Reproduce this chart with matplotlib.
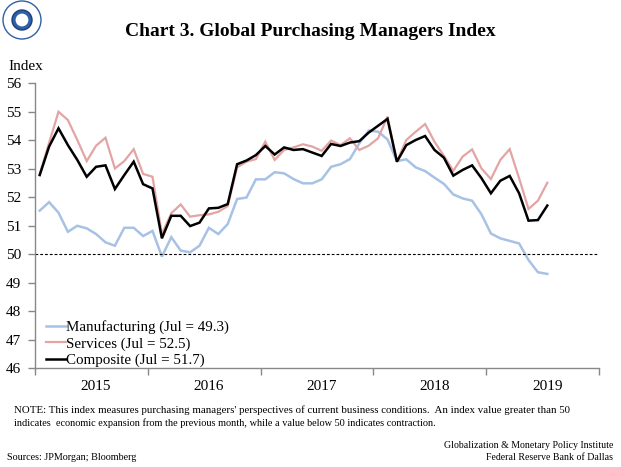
import matplotlib
matplotlib.use("Agg")
import matplotlib.pyplot as plt
from matplotlib.patches import Circle
import numpy as np

plt.rcParams['font.family'] = ['Liberation Serif', 'DejaVu Serif']

# Monthly data, Jan 2015 - Jul 2019
manufacturing = [51.52, 51.82, 51.45, 50.78, 50.99, 50.90, 50.70, 50.41, 50.29, 50.92, 50.92, 50.63,
                 50.81, 49.91, 50.59, 50.12, 50.06, 50.29, 50.92, 50.70, 51.05, 51.93, 51.98, 52.62,
                 52.62, 52.87, 52.83, 52.63, 52.48, 52.48, 52.62, 53.06, 53.15, 53.33, 53.88, 54.33,
                 54.29, 54.02, 53.26, 53.32, 53.04, 52.91, 52.68, 52.46, 52.09, 51.95, 51.87, 51.39,
                 50.72, 50.55, 50.46, 50.37, 49.79, 49.36, 49.30]
services = [52.80, 53.90, 54.99, 54.70, 54.00, 53.26, 53.80, 54.08, 53.00, 53.26, 53.68, 52.81,
            52.71, 50.70, 51.43, 51.74, 51.31, 51.36, 51.39, 51.48, 51.68, 53.04, 53.24, 53.33,
            53.94, 53.30, 53.65, 53.74, 53.85, 53.77, 53.62, 53.98, 53.82, 54.06, 53.65, 53.80,
            54.06, 54.82, 53.24, 54.00, 54.29, 54.56, 53.94, 53.44, 52.92, 53.42, 53.67, 53.00,
            52.63, 53.30, 53.68, 52.66, 51.58, 51.87, 52.50]
composite = [52.77, 53.77, 54.41, 53.82, 53.30, 52.71, 53.06, 53.11, 52.28, 52.77, 53.24, 52.45,
             52.30, 50.55, 51.34, 51.34, 50.98, 51.10, 51.60, 51.62, 51.75, 53.15, 53.28, 53.47,
             53.79, 53.49, 53.74, 53.65, 53.68, 53.56, 53.44, 53.86, 53.79, 53.91, 53.96, 54.26,
             54.50, 54.74, 53.24, 53.82, 54.00, 54.14, 53.65, 53.38, 52.75, 52.95, 53.11, 52.66,
             52.13, 52.57, 52.74, 52.13, 51.17, 51.19, 51.70]
years = ['2015', '2016', '2017', '2018', '2019']
labels = ['Manufacturing (Jul = 49.3)', 'Services (Jul = 52.5)', 'Composite (Jul = 51.7)']
colors = ['#A7C2E5', '#E3A4A4', '#000000']

fig = plt.figure(figsize=(6.21, 4.67), dpi=100)
ax = fig.add_axes([35/621, 1-368/467, (599-35)/621, (368-83)/467])

x = np.arange(len(composite))
for series, lab, col, lw in zip([manufacturing, services, composite], labels, colors, [1.8, 1.6, 1.8]):
    ax.plot(x, series, color=col, lw=lw, label=lab, solid_joinstyle='miter')

ax.axhline(50, color='black', lw=0.8, ls=(0, (2.5, 1.8)))

ax.set_xlim(-0.5, 59.5)
ax.set_ylim(46, 56)
ax.set_yticks(np.arange(46, 57, 1))
ax.set_xticks(np.arange(-0.5, 60, 12))
ax.set_xticklabels([])
ax.set_xticks(np.arange(6, 60, 12), minor=True)
ax.set_xticklabels(years, minor=True)
ax.tick_params(axis='x', which='minor', length=0, pad=9, labelsize=11)
ax.tick_params(axis='x', which='major', length=5, color='#888888', width=1)
ax.tick_params(axis='y', length=5, color='#888888', width=1, pad=5, labelsize=11)

for s in ['top', 'right']:
    ax.spines[s].set_visible(False)
for s in ['left', 'bottom']:
    ax.spines[s].set_color('#888888')
    ax.spines[s].set_linewidth(1)

leg = ax.legend(loc='upper left', bbox_to_anchor=(46/621, 1-320/467), bbox_transform=fig.transFigure,
                frameon=False, handlelength=1.3, handletextpad=0.05, labelspacing=0.2,
                borderpad=0, borderaxespad=0, fontsize=10.8)

fig.text(8/621, 1-67/467, 'Index', fontsize=11, ha='left', va='center')
fig.text(310/621, 1-32/467, 'Chart 3. Global Purchasing Managers Index', fontsize=14,
         fontweight='bold', ha='center', va='center')

# logo approximation
lax = fig.add_axes([2/621, 1-40/467, 40/621, 40/467])
lax.set_xlim(-1, 1); lax.set_ylim(-1, 1); lax.set_aspect('equal'); lax.axis('off')
lax.add_patch(Circle((0, 0), 0.95, fc='white', ec='#2E5FA8', lw=1.0))
lax.add_patch(Circle((0, 0), 0.5, fc='#2E5FA8', ec='#1E3F7A', lw=1.0))
lax.add_patch(Circle((0, 0), 0.32, fc='white', ec='none'))

fig.text(14/621, 1-410/467,
         "NOTE: This index measures purchasing managers' perspectives of current business conditions.  An index value greater than 50",
         fontsize=7.8, ha='left', va='center')
fig.text(14/621, 1-423/467,
         "indicates  economic expansion from the previous month, while a value below 50 indicates contraction.",
         fontsize=7.4, ha='left', va='center')
fig.text(7/621, 1-458/467, 'Sources: JPMorgan; Bloomberg', fontsize=7.3, ha='left', va='center')
fig.text(613/621, 1-446/467, 'Globalization & Monetary Policy Institute', fontsize=7.1, ha='right', va='center')
fig.text(613/621, 1-458/467, 'Federal Reserve Bank of Dallas', fontsize=7.1, ha='right', va='center')

fig.savefig('out.png', dpi=100)
